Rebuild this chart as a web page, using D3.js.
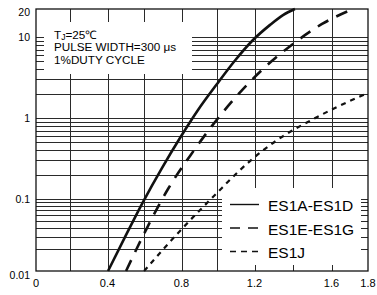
<!DOCTYPE html>
<html><head><meta charset="utf-8">
<script src="https://cdn.jsdelivr.net/npm/d3@7/dist/d3.min.js"></script>
<style>body{margin:0;background:#fff}svg{display:block}text{font-family:"Liberation Sans",Arial,sans-serif;fill:#000}</style>
</head><body><svg id="c" width="377" height="295"></svg>
<script>
// ---- data ----
const seriesNames = ["ES1A-ES1D", "ES1E-ES1G", "ES1J"];
const esA_x = [0.403, 0.497, 0.597, 0.697, 0.792, 0.893, 1.0, 1.096, 1.192, 1.281, 1.348, 1.41];
const esA_y = [0.01, 0.0296, 0.0908, 0.241, 0.566, 1.255, 2.63, 5.13, 9.18, 13.5, 17.2, 20];
const esE_x = [0.503, 0.618, 0.729, 0.848, 0.972, 1.096, 1.239, 1.40, 1.551, 1.718];
const esE_y = [0.01, 0.0395, 0.133, 0.34, 0.80, 1.77, 3.92, 8.2, 13.8, 20];
const esJ_x = [0.603, 0.792, 1.0, 1.123, 1.239, 1.358, 1.496, 1.619, 1.80];
const esJ_y = [0.01, 0.036, 0.119, 0.228, 0.39, 0.617, 0.945, 1.33, 2.04];
const xTickVals = [0, 0.4, 0.8, 1.2, 1.6, 1.8];
const xTickLabels = ["0", "0.4", "0.8", "1.2", "1.6", "1.8"];
const xGridVals = [0.2, 0.4, 0.6, 0.8, 1.0, 1.2, 1.4, 1.6];
const yTickVals = [0.01, 0.1, 1, 10, 20];
const yTickLabels = ["0.01", "0.1", "1", "10", "20"];
const yGridVals = [0.02,0.03,0.04,0.05,0.06,0.07,0.08,0.09,0.1,
                   0.2,0.3,0.4,0.5,0.6,0.7,0.8,0.9,1,
                   2,3,4,5,6,7,8,9,10];
const noteLines = ["PULSE WIDTH=300 \u03bcs", "1%DUTY CYCLE"];

// ---- scales (the printed grid is slightly uneven, so piecewise scales) ----
const L = 36, R = 368, T = 9, B = 271;
const x = d3.scaleLinear()
  .domain([0, 0.2, 0.4, 0.6, 0.8, 1.0, 1.2, 1.4, 1.6, 1.8])
  .range([L, 70, 107.5, 143.5, 181.5, 217, 254.5, 293, 331.5, R]);
const y = d3.scaleLog().domain([0.01, 0.1, 1, 10, 20]).range([B, 199, 118, 37, T]);
const svg = d3.select("#c");
const px = v => Math.round(v) + 0.5;

// grid
const g = svg.append("g").attr("stroke", "#2a2a2a").attr("stroke-width", 1);
xGridVals.forEach(v => g.append("line").attr("x1", px(x(v))).attr("x2", px(x(v))).attr("y1", T).attr("y2", B));
yGridVals.forEach(v => g.append("line").attr("x1", L).attr("x2", R).attr("y1", px(y(v))).attr("y2", px(y(v))));

// white boxes (note & legend) leaving edge stubs
svg.append("rect").attr("x", 44).attr("y", 22).attr("width", 148).attr("height", 52).attr("fill", "#fff");
svg.append("rect").attr("x", 222).attr("y", 188).attr("width", 139).attr("height", 77).attr("fill", "#fff");

// curves
const line = d3.line().x(d => x(d[0])).y(d => y(d[1])).curve(d3.curveMonotoneX);
const series = [
  {xs: esA_x, ys: esA_y, dash: null, w: 2.6},
  {xs: esE_x, ys: esE_y, dash: "12,9", w: 2.6},
  {xs: esJ_x, ys: esJ_y, dash: "5,5", w: 2.2}
];
series.forEach(s => {
  svg.append("path").attr("d", line(s.xs.map((v, i) => [v, s.ys[i]])))
    .attr("fill", "none").attr("stroke", "#111").attr("stroke-width", s.w)
    .attr("stroke-dasharray", s.dash);
});

// frame
svg.append("rect").attr("x", L).attr("y", T).attr("width", R - L).attr("height", B - T)
  .attr("fill", "none").attr("stroke", "#111").attr("stroke-width", 1.3);

// axis labels
xTickVals.forEach((v, i) => svg.append("text").attr("x", x(v)).attr("y", 287)
  .attr("text-anchor", "middle").attr("font-size", 11).text(xTickLabels[i]));
yTickVals.forEach((v, i) => {
  const yy = y(v), shift = (yy <= T + 1) ? 3.5 : (yy >= B - 1 ? 4 : 0);
  svg.append("text").attr("x", 30).attr("y", yy + shift)
    .attr("dy", "0.36em").attr("text-anchor", "end").attr("font-size", 10.5).text(yTickLabels[i]);
});

// note text
const t1 = svg.append("text").attr("x", 54).attr("y", 38.5).attr("font-size", 11.7);
t1.append("tspan").text("T");
t1.append("tspan").attr("font-size", 8.5).attr("dy", 1).text("J");
t1.append("tspan").attr("dy", -1).text("=25\u2103");
noteLines.forEach((s, i) => svg.append("text").attr("x", 54).attr("y", 51 + i * 12.5).attr("font-size", 11.7).text(s));

// legend
const legDash = [null, "10,8", "6,5"];
seriesNames.forEach((n, i) => {
  const yy = 204.5 + i * 23.5;
  svg.append("line").attr("x1", 230).attr("x2", 259).attr("y1", yy).attr("y2", yy)
    .attr("stroke", "#111").attr("stroke-width", 1.4).attr("stroke-dasharray", legDash[i]);
  svg.append("text").attr("x", 268).attr("y", yy + 6.5).attr("font-size", 15.5).text(n);
});
</script></body></html>
